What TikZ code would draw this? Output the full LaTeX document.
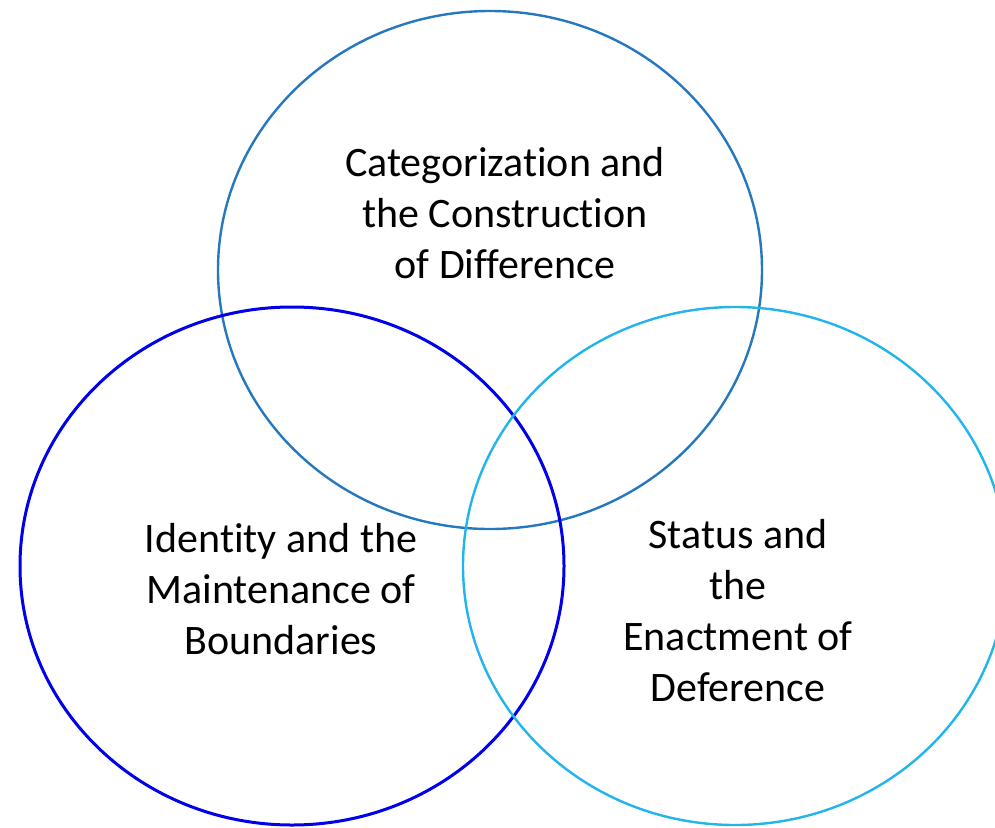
\documentclass[tikz,border=0pt]{standalone}
\usepackage{fontspec}
\setmainfont{Carlito}[RawFeature=-liga]
\usetikzlibrary{shapes.geometric}
\definecolor{topblue}{RGB}{38,120,190}
\definecolor{leftblue}{RGB}{0,0,235}
\definecolor{rightblue}{RGB}{35,180,235}
\tikzstyle{circ} = [ellipse, minimum width=544pt, minimum height=518pt, inner sep=0pt]
\tikzstyle{label} = [align=center, text=black, font=\fontsize{42}{51}\selectfont]

\begin{document}
\begin{tikzpicture}[x=1pt, y=1pt]
\useasboundingbox (0,0) rectangle (995,-827);
\node (categ) [circ, draw=topblue, line width=2.4pt] at (490,-270) {};
\node (ident) [circ, draw=leftblue, line width=3pt] at (292,-566) {};
\node (status) [circ, draw=rightblue, line width=2.4pt] at (735,-566) {};

\node (categtext) [label] at (505,-213) {Categorization and\\the Construction\\of Difference};
\node (identtext) [label] at (281,-589) {Identity and the\\Maintenance of\\Boundaries};
\node (statustext) [label] at (738,-611) {Status and\\the\\Enactment of\\Deference};
\end{tikzpicture}
\end{document}
